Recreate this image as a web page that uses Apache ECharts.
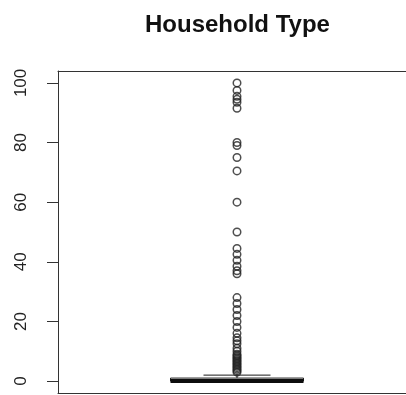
<!DOCTYPE html>
<html>
<head>
<meta charset="utf-8">
<script src="https://cdn.jsdelivr.net/npm/echarts@6/dist/echarts.min.js"></script>
<style>
  html, body { margin: 0; padding: 0; background: #fff; }
  #chart { width: 406px; height: 395px; }
</style>
</head>
<body>
<div id="chart"></div>
<script>
// ---- data ----
const titleText = 'Household Type';
const yTicks = [0, 20, 40, 60, 80, 100];
// [lower whisker, Q1, median, Q3, upper whisker]
const boxStats = [0, 0, 0, 1, 2];
const outliers = [3, 3.5, 4, 4.5, 5, 5.5, 6, 6.5, 7, 7.5, 8, 8.5, 9, 10, 11, 12.5, 13.5, 14.5,
                  16, 18, 20, 22, 24, 26, 28,
                  36, 37, 38.5, 40.5, 42.5, 44.5, 50, 60, 70.5, 75, 79, 80,
                  91.5, 93.5, 94.5, 95.5, 97.5, 100];

const chart = echarts.init(document.getElementById('chart'), null, { renderer: 'canvas' });

const BOX_HALF = 66.5, CAP_HALF = 33.5, LINE = '#1a1a1a';
const frame = { show: true, onZero: false, lineStyle: { color: '#333', width: 1 } };

chart.setOption({
  animation: false,
  backgroundColor: '#fff',
  title: {
    text: titleText,
    left: 140,
    top: 8,
    textStyle: { fontFamily: 'Liberation Sans', fontWeight: 'bold', fontSize: 24, color: '#111' }
  },
  grid: { left: 58, top: 71, right: 0, bottom: 2, show: false },
  xAxis: [
    { type: 'value', min: 0.5, max: 0.5 + 348 / 358, position: 'bottom',
      axisLine: frame, axisTick: { show: false }, axisLabel: { show: false }, splitLine: { show: false } },
    { type: 'value', min: 0.5, max: 0.5 + 348 / 358, position: 'top',
      axisLine: frame, axisTick: { show: false }, axisLabel: { show: false }, splitLine: { show: false } }
  ],
  yAxis: {
    type: 'value', min: -4, max: 104,
    axisLine: frame,
    splitLine: { show: false },
    axisTick: { show: true, inside: false, length: 11, customValues: yTicks,
                lineStyle: { color: '#333', width: 1 } },
    axisLabel: { show: true, customValues: yTicks, rotate: 90, margin: 28,
                 fontFamily: 'Liberation Sans', fontSize: 17, color: '#222' }
  },
  series: [
    {
      type: 'custom',
      data: [[1].concat(boxStats)],
      renderItem: function (params, api) {
        const x = api.value(0);
        const lo = api.coord([x, api.value(1)]);
        const q1 = api.coord([x, api.value(2)]);
        const md = api.coord([x, api.value(3)]);
        const q3 = api.coord([x, api.value(4)]);
        const hi = api.coord([x, api.value(5)]);
        const cx = q1[0];
        return {
          type: 'group',
          children: [
            { type: 'line', shape: { x1: cx, y1: q3[1], x2: cx, y2: hi[1] },
              style: { stroke: LINE, lineWidth: 1, lineDash: [3, 3] } },
            { type: 'line', shape: { x1: cx, y1: q1[1], x2: cx, y2: lo[1] },
              style: { stroke: LINE, lineWidth: 1, lineDash: [3, 3] } },
            { type: 'line', shape: { x1: cx - CAP_HALF, y1: hi[1], x2: cx + CAP_HALF, y2: hi[1] },
              style: { stroke: LINE, lineWidth: 1 } },
            { type: 'line', shape: { x1: cx - CAP_HALF, y1: lo[1], x2: cx + CAP_HALF, y2: lo[1] },
              style: { stroke: LINE, lineWidth: 1 } },
            { type: 'rect', shape: { x: cx - BOX_HALF, y: q3[1], width: 2 * BOX_HALF, height: q1[1] - q3[1] },
              style: { fill: '#fff', stroke: LINE, lineWidth: 1 } },
            { type: 'line', shape: { x1: cx - BOX_HALF, y1: md[1], x2: cx + BOX_HALF, y2: md[1] },
              style: { stroke: '#0d0d0d', lineWidth: 4 } }
          ]
        };
      },
      z: 2
    },
    {
      type: 'scatter',
      data: outliers.map(v => [1, v]),
      symbol: 'circle',
      symbolSize: 7.5,
      itemStyle: { color: 'rgba(255,255,255,0)', borderColor: '#222', borderWidth: 1.5 },
      z: 3
    }
  ]
});
</script>
</body>
</html>
